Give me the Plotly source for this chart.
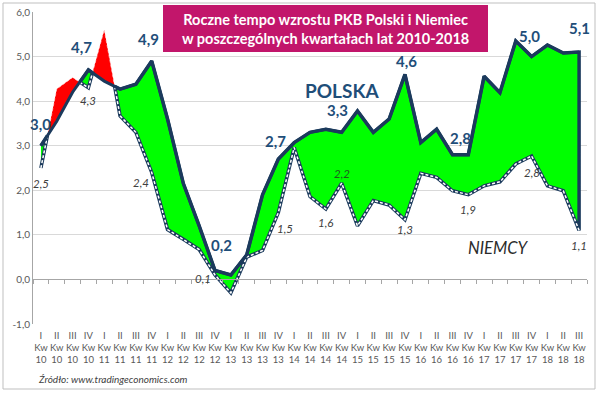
import plotly.graph_objects as go

# ---------------- data ----------------
quarter_labels = ["I", "II", "III", "IV", "I", "II", "III", "IV", "I", "II", "III", "IV",
                  "I", "II", "III", "IV", "I", "II", "III", "IV", "I", "II", "III", "IV",
                  "I", "II", "III", "IV", "I", "II", "III", "IV", "I", "II", "III"]
year_labels = ["10", "10", "10", "10", "11", "11", "11", "11", "12", "12", "12", "12",
               "13", "13", "13", "13", "14", "14", "14", "14", "15", "15", "15", "15",
               "16", "16", "16", "16", "17", "17", "17", "17", "18", "18", "18"]

poland = [3.0, 3.55, 4.2, 4.7,
          4.45, 4.27, 4.38, 4.9,
          3.6, 2.15, 1.2, 0.2,
          0.1, 0.55, 1.9, 2.7,
          3.07, 3.3, 3.37, 3.3,
          3.78, 3.3, 3.6, 4.6,
          3.07, 3.37, 2.8, 2.8,
          4.56, 4.19, 5.35, 5.0,
          5.26, 5.08, 5.1]

germany = [2.5, 4.27, 4.53, 4.3,
           5.6, 3.67, 3.3, 2.4,
           1.12, 0.9, 0.67, 0.1,
           -0.3, 0.5, 0.65, 1.5,
           2.96, 1.86, 1.58, 2.16,
           1.2, 1.77, 1.67, 1.34,
           2.38, 2.29, 1.99, 1.9,
           2.1, 2.19, 2.59, 2.77,
           2.1, 1.99, 1.1]

y_tick_values = [-1, 0, 1, 2, 3, 4, 5, 6]
y_tick_labels = ["-1,0", "0,0", "1,0", "2,0", "3,0", "4,0", "5,0", "6,0"]

# indices of labelled points
poland_label_idx = [0, 3, 7, 11, 15, 19, 23, 26, 31, 34]
germany_label_idx = [0, 3, 7, 11, 15, 18, 19, 23, 27, 31, 34]

title_lines = ["Roczne tempo wzrostu PKB Polski i Niemiec",
               "w poszczególnych kwartałach lat 2010-2018"]
source_text = "Źródło: www.tradingeconomics.com"

# ---------------- style ----------------
W, H = 600, 393
ML, MR, MT, MB = 33, 13, 12, 69
PW, PH = W - ML - MR, H - MT - MB
NAVY = "#1B3A5C"
LABEL_BLUE = "#1F4E79"
GREEN = "#00FF00"
RED = "#FF0000"
FONT = "Lato"


def px(x):
    return (x - ML) / PW


def py(y):
    return 1 - (y - MT) / PH


def fmt(v):
    return f"{v:.1f}".replace(".", ",")


n = len(poland)
xs = list(range(n))

# ---------------- regions between the two lines ----------------
seq = []
for i in range(n):
    seq.append((float(i), poland[i], germany[i]))
    if i < n - 1:
        d0 = poland[i] - germany[i]
        d1 = poland[i + 1] - germany[i + 1]
        if d0 * d1 < 0:
            t = d0 / (d0 - d1)
            yc = poland[i] + t * (poland[i + 1] - poland[i])
            seq.append((i + t, yc, yc))

regions = []
cur, cur_sign = [], None
for (x, a, b) in seq:
    d = a - b
    if abs(d) < 1e-12:
        cur.append((x, a, b))
        if cur_sign is not None and len(cur) > 1:
            regions.append((cur_sign, cur))
        cur, cur_sign = [(x, a, b)], None
    else:
        s = 1 if d > 0 else -1
        if cur_sign is None:
            cur_sign = s
        cur.append((x, a, b))
if cur_sign is not None and len(cur) > 1:
    regions.append((cur_sign, cur))

fig = go.Figure()

for sign, pts in sorted(regions, key=lambda r: r[0]):
    px_ = [p[0] for p in pts] + [p[0] for p in reversed(pts)]
    py_ = [max(p[1], p[2]) for p in pts] + [min(p[1], p[2]) for p in reversed(pts)]
    if sign > 0:
        fig.add_trace(go.Scatter(x=px_, y=py_, mode="lines", fill="toself",
                                 fillcolor=GREEN, line=dict(color=NAVY, width=3.5),
                                 hoverinfo="skip", showlegend=False))
    else:
        fig.add_trace(go.Scatter(x=px_, y=py_, mode="none", fill="toself",
                                 fillcolor=RED, hoverinfo="skip", showlegend=False))

# Germany line: white dashed; bolder where it borders green, faint on red
for sign, pts in regions:
    gx = [p[0] for p in pts]
    gy = [p[2] for p in pts]
    if sign > 0:
        fig.add_trace(go.Scatter(x=gx, y=gy, mode="lines",
                                 line=dict(color="white", width=1.5, dash="3px,2px"),
                                 hoverinfo="skip", showlegend=False))
    else:
        fig.add_trace(go.Scatter(x=gx, y=gy, mode="lines",
                                 line=dict(color="rgba(255,235,235,0.6)", width=1, dash="3px,2px"),
                                 hoverinfo="skip", showlegend=False))

# Poland line: navy
fig.add_trace(go.Scatter(x=xs, y=poland, mode="lines",
                         line=dict(color=NAVY, width=3),
                         name="Polska", showlegend=False))

# invisible trace for the zero axis (ticks)
fig.add_trace(go.Scatter(x=[0], y=[0], xaxis="x2", mode="markers",
                         marker=dict(opacity=0), hoverinfo="skip", showlegend=False))

# ---------------- annotations ----------------
ann = []
pl_shift = {0: (0, 22), 3: (-7, 23), 7: (-3, 22), 11: (6, 26), 15: (-3, 18),
            19: (-4, 22), 23: (2, 13), 26: (8, 17), 31: (-2, 21), 34: (0, 24)}
for i in poland_label_idx:
    dx, dy = pl_shift[i]
    ann.append(dict(x=i, y=poland[i], text=fmt(poland[i]), showarrow=False,
                    xshift=dx, yshift=dy, xanchor="center", yanchor="middle",
                    font=dict(family=FONT, size=15, color=LABEL_BLUE, weight="bold")))

de_shift = {0: (0, -15), 3: (0, -13), 7: (-11, -10), 11: (-12, -4), 15: (7, -16),
            18: (0, -13), 19: (0, 10), 23: (0, -10), 27: (0, -15), 31: (0, -17), 34: (0, -15)}
for i in germany_label_idx:
    dx, dy = de_shift[i]
    col = "#1E5A1E" if i == 19 else "#404040"
    ann.append(dict(x=i, y=germany[i], text="<i>" + fmt(germany[i]) + "</i>", showarrow=False,
                    xshift=dx, yshift=dy, xanchor="center", yanchor="middle",
                    font=dict(family=FONT, size=11.5, color=col)))

ann.append(dict(xref="paper", yref="paper", x=px(342), y=py(90), text="<b>POLSKA</b>",
                showarrow=False, xanchor="center", yanchor="middle",
                font=dict(family=FONT, size=19, color=LABEL_BLUE)))
ann.append(dict(xref="paper", yref="paper", x=px(498), y=py(248), text="<i>NIEMCY</i>",
                showarrow=False, xanchor="center", yanchor="middle",
                font=dict(family=FONT, size=16.5, color="#2b2b2b", weight=400)))

ann.append(dict(xref="paper", yref="paper", x=px(325.5), y=py(28.5),
                text="<b>" + title_lines[0] + "<br>" + title_lines[1] + "</b>",
                showarrow=False, xanchor="center", yanchor="middle",
                font=dict(family=FONT, size=14.5, color="white")))
ann.append(dict(xref="paper", yref="paper", x=px(36), y=py(379),
                text="<i>" + source_text + "</i>",
                showarrow=False, xanchor="left", yanchor="middle",
                font=dict(family=FONT, size=10, color="#404040")))

shapes = [
    dict(type="rect", xref="paper", yref="paper", x0=px(163), x1=px(488), y0=py(5), y1=py(52),
         fillcolor="#C2166B", line=dict(width=0), layer="above"),
    dict(type="rect", xref="paper", yref="paper", x0=px(3), x1=px(595), y0=py(3), y1=py(389),
         fillcolor="rgba(0,0,0,0)", line=dict(color="#BFBFBF", width=1), layer="below"),
]

tick_text = [f"{q}<br>Kw<br>{y}" for q, y in zip(quarter_labels, year_labels)]

fig.update_layout(
    width=W, height=H,
    margin=dict(l=ML, r=MR, t=MT, b=MB, autoexpand=False),
    paper_bgcolor="white", plot_bgcolor="white",
    font=dict(family=FONT, color="#595959"),
    showlegend=False,
    annotations=ann,
    shapes=shapes,
    xaxis=dict(range=[-0.5, n - 0.5], tickmode="array", tickvals=xs, ticktext=tick_text,
               tickangle=0, showgrid=False, zeroline=False, showline=False, ticks="",
               automargin=False, ticklabelstandoff=4,
               tickfont=dict(family=FONT, size=9.5, color="#595959")),
    xaxis2=dict(overlaying="x", matches="x", anchor="free", position=1 / 7,
                range=[-0.5, n - 0.5], tickmode="array", automargin=False,
                tickvals=[i - 0.5 for i in range(n + 1)], ticks="outside", ticklen=4,
                tickcolor="#A6A6A6", showticklabels=False, showline=True,
                linecolor="#A6A6A6", linewidth=1, showgrid=False, zeroline=False),
    yaxis=dict(range=[-1, 6], tickmode="array", tickvals=y_tick_values, ticktext=y_tick_labels,
               showgrid=True, gridcolor="#D9D9D9", gridwidth=1, zeroline=False,
               showline=True, linecolor="#A6A6A6", linewidth=1, ticks="",
               automargin=False,
               tickfont=dict(family=FONT, size=10, color="#595959")),
)

fig.write_html("out.html",
               config={"displayModeBar": False},
               post_script="document.body.style.margin='0';document.body.style.padding='0';")
